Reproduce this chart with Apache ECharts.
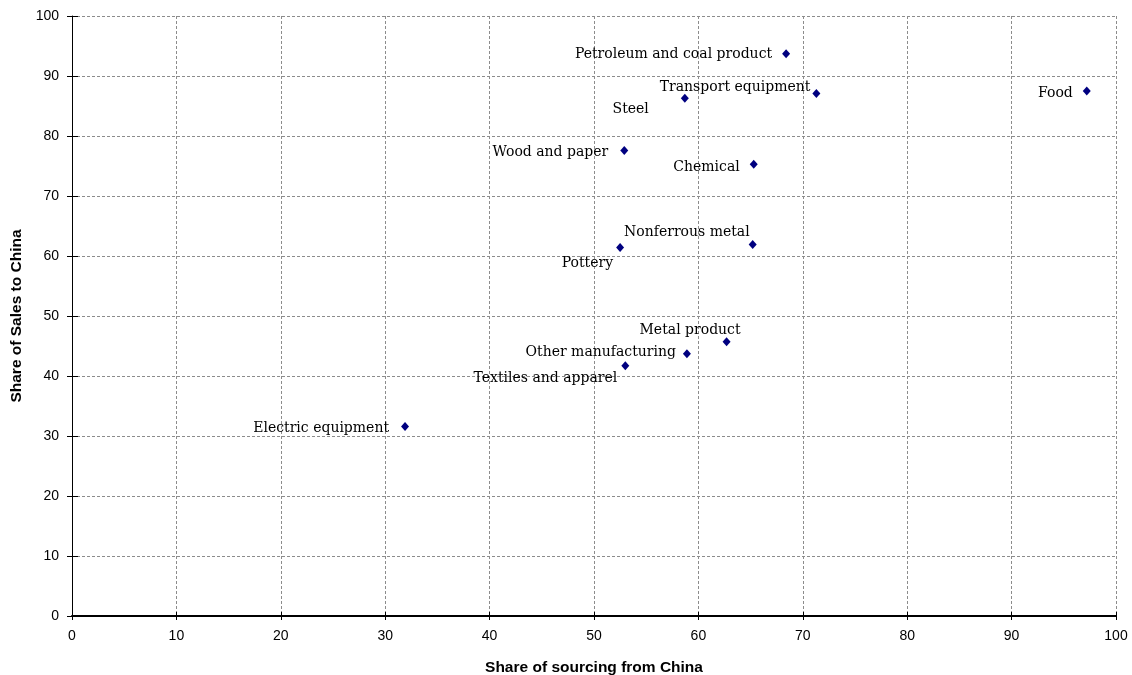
<!DOCTYPE html>
<html>
<head>
<meta charset="utf-8">
<script src="https://cdn.jsdelivr.net/npm/echarts@6/dist/echarts.min.js"></script>
<style>html,body{margin:0;padding:0;background:#fff;}#c{width:1132px;height:675px;}</style>
</head>
<body>
<div id="c"></div>
<script>
const industries = ["Petroleum and coal product","Transport equipment","Food","Steel","Wood and paper","Chemical","Nonferrous metal","Pottery","Metal product","Other manufacturing","Textiles and apparel","Electric equipment"];
const sourcingShare = [68.4, 71.3, 97.2, 58.7, 52.9, 65.3, 65.2, 52.5, 62.7, 58.9, 53.0, 31.9];
const salesShare = [93.7, 87.1, 87.5, 86.3, 77.6, 75.3, 61.9, 61.4, 45.7, 43.7, 41.7, 31.6];
const xTicks = [0,10,20,30,40,50,60,70,80,90,100];
const yTicks = [0,10,20,30,40,50,60,70,80,90,100];

// label placement (layout only): offset of label relative to its point
const labelLayout = {
  "Petroleum and coal product": {offset:[-6,1]},
  "Transport equipment": {offset:[2,-6]},
  "Food": {offset:[-6,2]},
  "Steel": {offset:[-28,11]},
  "Wood and paper": {offset:[-8,2]},
  "Chemical": {offset:[-6,3]},
  "Nonferrous metal": {offset:[5,-12]},
  "Pottery": {offset:[1,16]},
  "Metal product": {offset:[22,-11]},
  "Other manufacturing": {offset:[-3,-1]},
  "Textiles and apparel": {offset:[0,13]},
  "Electric equipment": {offset:[-8,2]}
};

const data = industries.map((n,i)=>({
  name:n, value:[sourcingShare[i], salesShare[i]],
  label:Object.assign({show:true, position:'left', formatter:n, distance:4}, labelLayout[n])
}));

const axisFont = {fontFamily:'Liberation Sans', fontSize:14, color:'#000'};
const nameFont = {fontFamily:'Liberation Sans', fontWeight:'bold', fontSize:15.5, color:'#000'};
const gridLine = {show:true, lineStyle:{color:'#8c8c8c', type:[3,2], width:1}};

const chart = echarts.init(document.getElementById('c'), null, {renderer:'canvas'});
chart.setOption({
  animation:false,
  backgroundColor:'#fff',
  grid:{left:72, right:16, top:16, bottom:59, containLabel:false, outerBoundsMode:'none'},
  xAxis:[{
    type:'value', position:'bottom', min:xTicks[0], max:xTicks[xTicks.length-1], interval:10,
    name:'Share of sourcing from China', nameLocation:'middle', nameGap:44,
    nameTextStyle:nameFont,
    axisLine:{show:true, onZero:false, lineStyle:{color:'#000', width:2}},
    axisTick:{show:true, length:4, lineStyle:{color:'#000'}},
    axisLabel:Object.assign({margin:13}, axisFont),
    splitLine:gridLine
  },{
    type:'value', position:'bottom', min:xTicks[0], max:xTicks[xTicks.length-1], interval:10,
    axisLine:{show:false, onZero:false},
    axisTick:{show:true, inside:true, length:4, lineStyle:{color:'#000'}},
    axisLabel:{show:false}, splitLine:{show:false}
  }],
  yAxis:[{
    type:'value', position:'left', min:yTicks[0], max:yTicks[yTicks.length-1], interval:10,
    name:'Share of Sales to China', nameLocation:'middle', nameGap:42,
    nameTextStyle:nameFont,
    axisLine:{show:true, onZero:false, lineStyle:{color:'#000', width:1}},
    axisTick:{show:true, length:5, lineStyle:{color:'#000'}},
    axisLabel:Object.assign({margin:13}, axisFont),
    splitLine:gridLine
  },{
    type:'value', position:'left', min:yTicks[0], max:yTicks[yTicks.length-1], interval:10,
    axisLine:{show:false, onZero:false},
    axisTick:{show:true, inside:true, length:6, lineStyle:{color:'#000'}},
    axisLabel:{show:false}, splitLine:{show:false}
  }],
  series:[{
    type:'scatter', xAxisIndex:0, yAxisIndex:0,
    symbol:'diamond', symbolSize:[8,9],
    itemStyle:{color:'#000080', opacity:1},
    label:{fontFamily:'DejaVu Serif', fontSize:14, color:'#000', opacity:1},
    emphasis:{disabled:true},
    data:data
  }]
});
</script>
</body>
</html>
